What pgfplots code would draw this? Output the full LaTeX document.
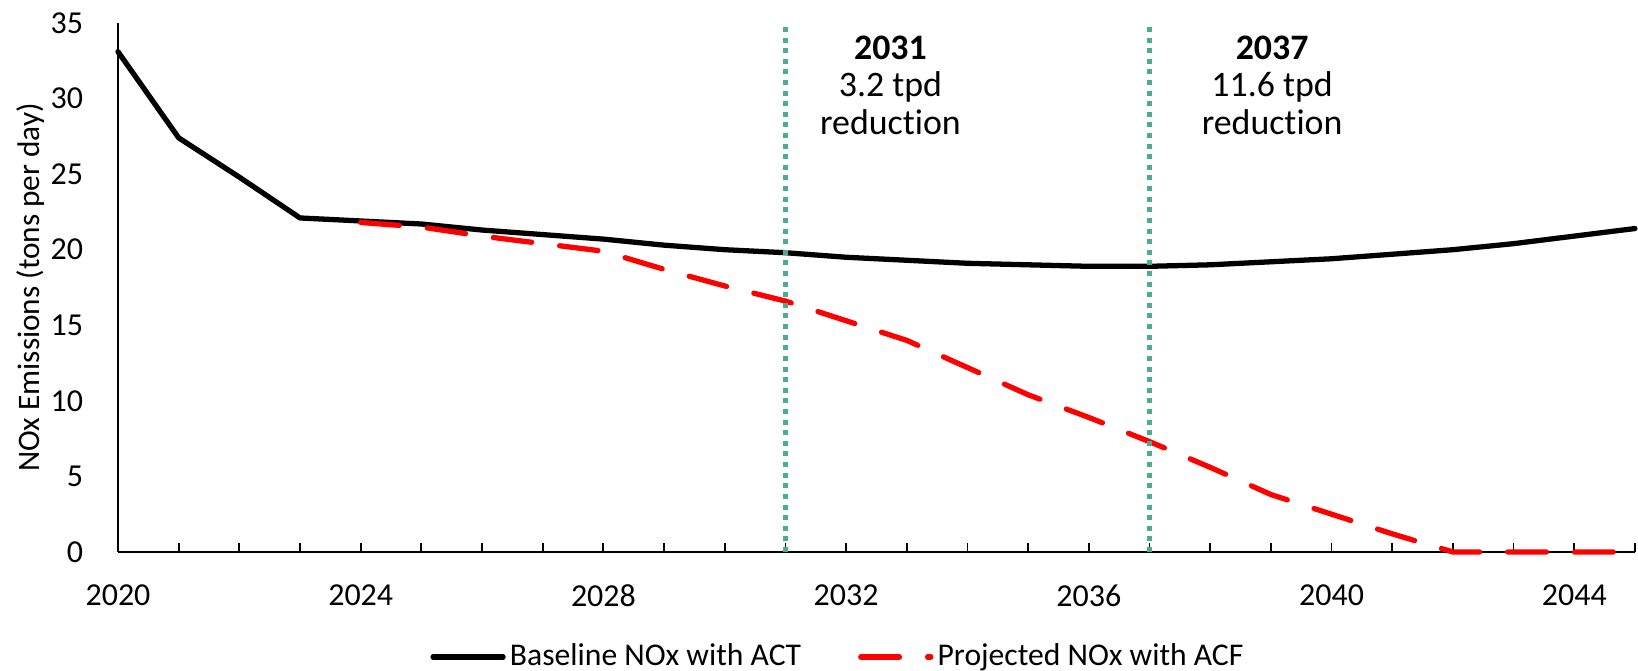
\documentclass[border=0pt]{standalone}
\usepackage{fontspec}
\setmainfont[Ligatures=NoCommon]{Carlito}
\usepackage{pgfplots}
\pgfplotsset{compat=1.18}
\definecolor{vgreen}{RGB}{75,172,143}
\begin{document}
\begin{tikzpicture}
\begin{axis}[name=ax, scale only axis, width=15.17cm, height=5.29cm,
  xmin=2020, xmax=2045, ymin=0, ymax=35, clip=false,
  axis lines*=left, axis line style={black, line width=0.6pt},
  xtick={2020,2024,...,2044}, minor xtick={2020,...,2045},
  ytick={0,5,...,35},
  tick align=inside, major tick length=2.6pt, minor tick length=2.6pt,
  x tick style={black, line width=0.5pt},
  minor x tick style={black, line width=0.5pt},
  y tick style={draw=none},
  /pgf/number format/assume math mode=true,
  /pgf/number format/1000 sep={},
  tick label style={font=\fontsize{9.1}{10}\selectfont},
  xticklabel style={yshift=-5.8pt},
  yticklabel style={xshift=-6.4pt},
  ylabel={NOx Emissions (tons per day)},
  ylabel style={at={(axis description cs:-0.0574,0.5)}, anchor=center, font=\fontsize{8.9}{10}\selectfont},
  legend style={at={(0.4753,-0.1985)}, anchor=center, draw=none, fill=none, legend columns=2,
    font=\fontsize{9}{10}\selectfont, nodes={inner xsep=1.2pt},
    /tikz/every even column/.append style={column sep=15pt}},
  legend image code/.code={\draw[#1] (0cm,0cm) -- (0.7cm,0cm);},
]
\addplot[black, line width=1.5pt, line join=round, line cap=round] table {
x y
2020 33.1
2021 27.4
2022 24.8
2023 22.1
2024 21.9
2025 21.7
2026 21.3
2027 21.0
2028 20.7
2029 20.3
2030 20.0
2031 19.8
2032 19.5
2033 19.3
2034 19.1
2035 19.0
2036 18.9
2037 18.9
2038 19.0
2039 19.2
2040 19.4
2041 19.7
2042 20.0
2043 20.4
2044 20.9
2045 21.4
};
\addlegendentry{Baseline NOx with ACT}
\addplot[red, line width=1.5pt, line join=round, line cap=round, dash pattern=on 11pt off 8pt] table {
x y
2024 21.8
2025 21.5
2026 20.9
2027 20.4
2028 19.9
2029 18.7
2030 17.6
2031 16.6
2032 15.3
2033 14.0
2034 12.2
2035 10.4
2036 8.9
2037 7.3
2038 5.6
2039 3.8
2040 2.5
2041 1.2
2042 0
2043 0
2044 0
2045 0
};
\addlegendentry{Projected NOx with ACF}
\addplot[vgreen, line width=1.42pt, dash pattern=on 1.42pt off 1.6pt, forget plot] coordinates {(2031,0) (2031,35)};
\addplot[vgreen, line width=1.42pt, dash pattern=on 1.42pt off 1.6pt, forget plot] coordinates {(2037,0) (2037,35)};
\node[anchor=north, align=center, inner sep=0pt, font=\fontsize{10.2}{10.7}\selectfont] at (axis cs:2032.73,34.2) {\textbf{2031}\\3.2 tpd\\reduction};
\node[anchor=north, align=center, inner sep=0pt, font=\fontsize{10.2}{10.7}\selectfont] at (axis cs:2039.02,34.2) {\textbf{2037}\\11.6 tpd\\reduction};
\end{axis}
\pgfresetboundingbox
\path[use as bounding box] (ax.south west) ++(-1.18cm,-1.19cm) rectangle ++(16.38cm,6.71cm);
\end{tikzpicture}
\end{document}
